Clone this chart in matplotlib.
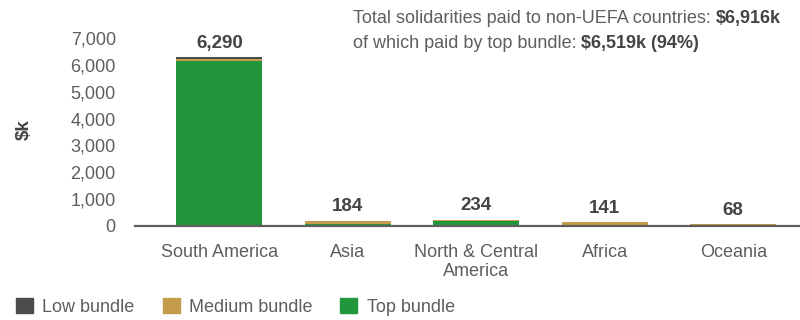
import matplotlib
matplotlib.use("Agg")
import matplotlib.pyplot as plt
from matplotlib.patches import Patch
import numpy as np

plt.rcParams['font.family'] = ['Liberation Sans', 'DejaVu Sans']

categories = ["South America", "Asia", "North & Central\nAmerica", "Africa", "Oceania"]
top_bundle = [6130, 65, 200, 0, 0]
medium_bundle = [85, 119, 34, 141, 68]
low_bundle = [75, 0, 0, 0, 0]
totals = [6290, 184, 234, 141, 68]
yticks = [0, 1000, 2000, 3000, 4000, 5000, 6000, 7000]

c_low = "#4b4b4b"
c_med = "#c49c4c"
c_top = "#22963a"
grey = "#5e5e5e"
dark = "#444444"
FS = 13

fig = plt.figure(figsize=(8, 3.2), dpi=100)
ax = fig.add_axes([0.169, 0.294, 0.831, 0.587])

x = np.arange(len(categories))
w = 0.67
top = np.array(top_bundle)
med = np.array(medium_bundle)
low = np.array(low_bundle)
ax.bar(x, top, w, color=c_top)
ax.bar(x, med, w, bottom=top, color=c_med)
ax.bar(x, low, w, bottom=top + med, color=c_low)

for xi, t in zip(x, totals):
    ax.annotate(f"{t:,}", (xi, t), xytext=(0, 4), textcoords="offset points",
                ha="center", va="bottom", fontsize=13.5, fontweight="bold",
                color=dark, clip_on=False)

ax.set_xlim(-0.655, 4.52)
ax.set_ylim(0, 7000)
ax.set_yticks(yticks)
ax.set_yticklabels([f"{v:,}" for v in yticks])
ax.set_xticks(x)
ax.set_xticklabels(categories, linespacing=1.15)
ax.tick_params(axis="both", length=0, labelsize=FS, colors=grey)
ax.tick_params(axis="y", pad=14)
ax.tick_params(axis="x", pad=13)
for s in ["top", "right", "left"]:
    ax.spines[s].set_visible(False)
ax.spines["bottom"].set_color(grey)
ax.spines["bottom"].set_linewidth(1.6)

fig.text(0.03, 0.594, "$k", rotation=90, fontsize=13.5, fontweight="bold",
         color=dark, ha="center", va="center")

# annotation top right
t1 = fig.text(0.441, 0.927, "Total solidarities paid to non-UEFA countries: ",
              fontsize=FS, color=grey, ha="left", va="baseline")
ax.annotate("$6,916k", xy=(1, 0), xycoords=t1, fontsize=FS, fontweight="bold",
            color=dark, ha="left", va="bottom")
t2 = fig.text(0.441, 0.849, "of which paid by top bundle: ",
              fontsize=FS, color=grey, ha="left", va="baseline")
ax.annotate("$6,519k (94%)", xy=(1, 0), xycoords=t2, fontsize=FS, fontweight="bold",
            color=dark, ha="left", va="bottom")

handles = [Patch(color=c_low, label="Low bundle"),
           Patch(color=c_med, label="Medium bundle"),
           Patch(color=c_top, label="Top bundle")]
leg = fig.legend(handles=handles, loc="lower left", bbox_to_anchor=(0.0, -0.037),
                 ncol=3, frameon=False, fontsize=FS, handlelength=0.95,
                 handleheight=0.95, columnspacing=1.55, handletextpad=0.5)
for t in leg.get_texts():
    t.set_color(grey)

fig.savefig("out.png", dpi=100)
